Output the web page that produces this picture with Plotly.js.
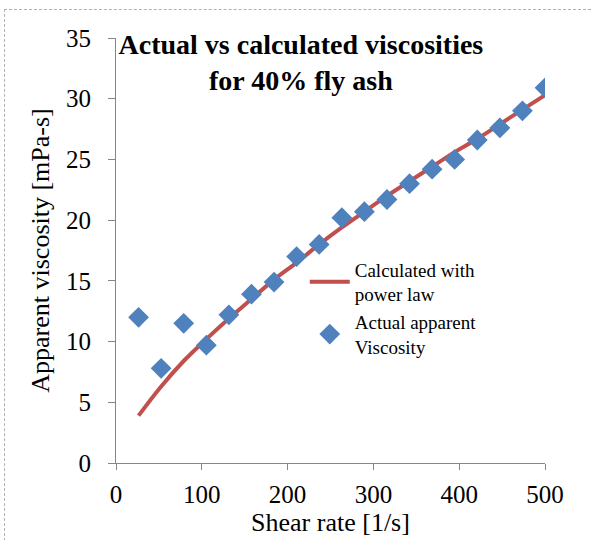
<!DOCTYPE html>
<html>
<head>
<meta charset="utf-8">
<script src="https://cdn.plot.ly/plotly-3.0.1.min.js"></script>
<style>
html,body{margin:0;padding:0;background:#fff;}
#wrap{position:relative;width:592px;height:540px;}
#chart{width:592px;height:540px;}
#frame{position:absolute;left:4px;top:9px;width:600px;height:540px;border:1px dashed #b0b0b0;pointer-events:none;}
</style>
</head>
<body>
<div id="wrap"><div id="chart"></div><div id="frame"></div></div>
<script>
var shearRate = [26.3, 52.6, 78.9, 105.3, 131.6, 157.9, 184.2, 210.5, 236.8, 263.2, 289.5, 315.8, 342.1, 368.4, 394.7, 421.1, 447.4, 473.7, 500];
var actualViscosity = [12.0, 7.8, 11.5, 9.7, 12.2, 13.9, 14.9, 17.0, 18.0, 20.2, 20.7, 21.7, 23.0, 24.2, 25.0, 26.6, 27.6, 29.0, 30.9];
var calculatedViscosity = [3.9, 6.3, 8.4, 10.2, 11.9, 13.5, 15.1, 16.5, 18.0, 19.4, 20.7, 22.0, 23.2, 24.4, 25.6, 26.7, 27.9, 29.1, 30.3];
var seriesNames = ["Calculated with<br>power law", "Actual apparent<br>Viscosity"];
var xTicks = [0, 100, 200, 300, 400, 500];
var yTicks = [0, 5, 10, 15, 20, 25, 30, 35];

var font = "Liberation Serif";
var traces = [
  {x: shearRate, y: calculatedViscosity, name: seriesNames[0], type: "scatter", mode: "lines",
   line: {color: "#C0504D", width: 4, shape: "spline"}},
  {x: shearRate, y: actualViscosity, name: seriesNames[1], type: "scatter", mode: "markers",
   marker: {symbol: "diamond", color: "#4F81BD", size: 16}}
];
var layout = {
  width: 592, height: 540,
  margin: {l: 116, r: 47, t: 38, b: 77},
  paper_bgcolor: "#fff", plot_bgcolor: "#fff",
  font: {family: font, color: "#000", size: 25},
  title: {text: "<b>Actual vs calculated viscosities<br>for 40% fly ash</b>", font: {family: font, size: 28, color: "#000"},
          x: 0.431, xanchor: "center", y: 0.90, yanchor: "top", xref: "paper", yref: "container"},
  showlegend: true,
  legend: {x: 0.44, y: 0.5, xanchor: "left", yanchor: "top", font: {family: font, size: 19, color: "#000"},
           bgcolor: "rgba(0,0,0,0)", tracegroupgap: 6, itemwidth: 40},
  xaxis: {range: [0, 500], tickvals: xTicks, ticks: "outside", ticklen: 6, tickcolor: "#868686",
          showline: true, linecolor: "#868686", linewidth: 1, showgrid: false, zeroline: false,
          ticklabelstandoff: 3,
          tickfont: {family: font, size: 25, color: "#000"},
          title: {text: "Shear rate [1/s]", font: {family: font, size: 26, color: "#000"}, standoff: 2}},
  yaxis: {range: [0, 35], tickvals: yTicks, ticks: "outside", ticklen: 7, tickcolor: "#868686",
          showline: true, linecolor: "#868686", linewidth: 1, showgrid: false, zeroline: false,
          ticklabelstandoff: 12,
          tickfont: {family: font, size: 25, color: "#000"},
          title: {text: "Apparent viscosity [mPa-s]", font: {family: font, size: 26, color: "#000"}, standoff: 8}}
};
Plotly.newPlot("chart", traces, layout, {displayModeBar: false, staticPlot: true});
</script>
</body>
</html>
